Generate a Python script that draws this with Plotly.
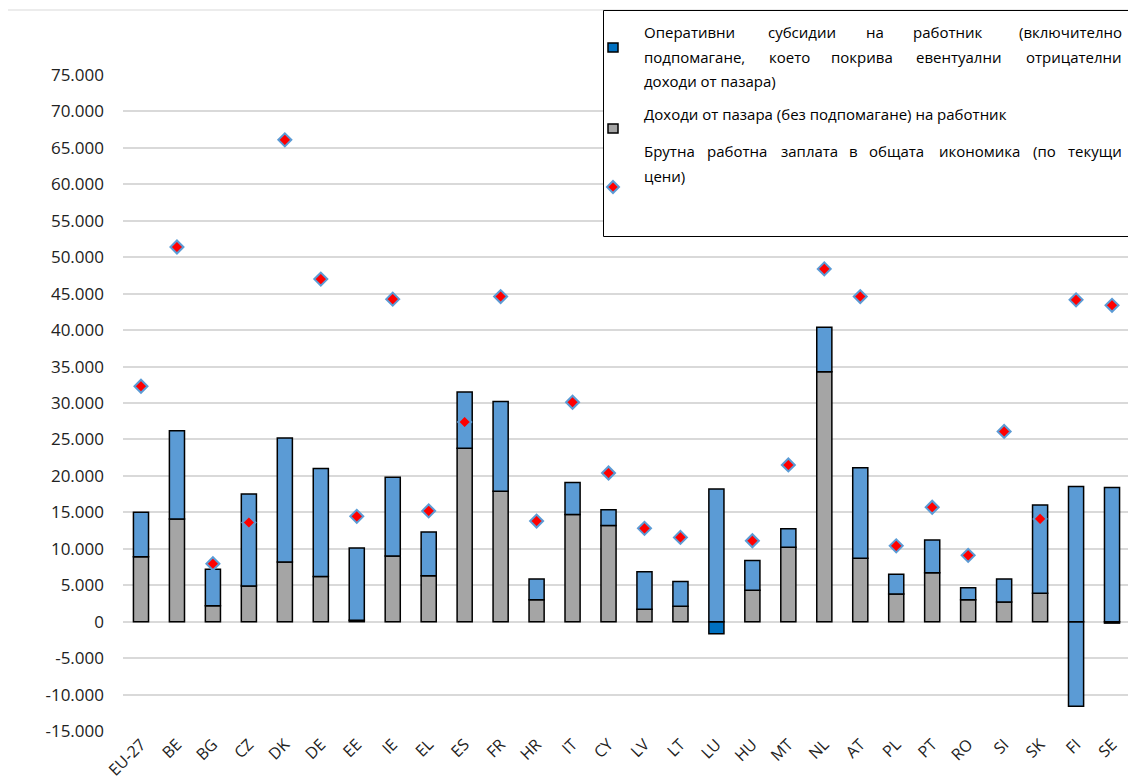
import plotly.graph_objects as go

# ---------------- data ----------------
countries = ["EU-27", "BE", "BG", "CZ", "DK", "DE", "EE", "IE", "EL", "ES", "FR", "HR", "IT", "CY",
             "LV", "LT", "LU", "HU", "MT", "NL", "AT", "PL", "PT", "RO", "SI", "SK", "FI", "SE"]
market_income = [8900, 14100, 2200, 4900, 8200, 6200, 200, 9000, 6300, 23800, 17900, 3000, 14700, 13200,
                 1700, 2100, -1650, 4300, 10200, 34300, 8700, 3800, 6700, 3000, 2700, 3900, -11600, -200]
subsidies = [6100, 12100, 5000, 12600, 17000, 14800, 9900, 10800, 6000, 7700, 12300, 2850, 4400, 2150,
             5150, 3400, 18200, 4100, 2550, 6100, 12400, 2700, 4500, 1660, 3150, 12100, 18550, 18400]
gross_wage = [32300, 51400, 7950, 13600, 66100, 47000, 14450, 44250, 15200, 27400, 44600, 13800, 30100, 20400,
              12800, 11560, None, 11100, 21500, 48400, 44600, 10400, 15700, 9100, 26100, 14100, 44150, 43400]
y_ticks = list(range(-15000, 80000, 5000))
y_tick_labels = [f"{v:,}".replace(",", ".") for v in y_ticks]

legend_sub = "Оперативни субсидии на работник (включително подпомагане, което покрива евентуални отрицателни доходи от пазара)"
legend_market = "Доходи от пазара (без подпомагане) на работник"
legend_wage = "Брутна работна заплата в общата икономика (по текущи цени)"

# colours
C_BLUE = "#5B9BD5"
C_DARK = "#0070C0"
C_GREY = "#A5A5A5"
neg_override = {"LU": C_DARK, "FI": C_BLUE}
market_colors = [neg_override.get(c, C_GREY) for c in countries]

# page offset (body margin) and figure geometry
OFF = 8
W, H = 1128, 774
PL_LEFT, PL_RIGHT, PL_TOP, PL_BOTTOM = 123, 1130, 75, 731   # plot area in page pixels
L, R = PL_LEFT - OFF, W - (PL_RIGHT - OFF)
T, B = PL_TOP - OFF, H - (PL_BOTTOM - OFF)
PW, PH = W - L - R, H - T - B


def px(x):
    return (x - OFF - L) / PW


def py(y):
    return (H - B - (y - OFF)) / PH


FONT = "Open Sans"
LSIZE = 15

# approximate glyph advance widths (em) used only to justify legend lines
CW = {"а": .556, "б": .58, "в": .568, "г": .443, "д": .578, "е": .561, "ж": .8, "з": .487, "и": .65,
      "й": .65, "к": .556, "л": .613, "м": .747, "н": .652, "о": .6, "п": .652, "р": .613, "с": .48,
      "т": .486, "у": .5, "ф": .775, "х": .524, "ц": .663, "ч": .618, "ш": .92, "щ": .94, "ъ": .67,
      "ы": .86, "ь": .58, "ю": .87, "я": .58, "О": .78, "Д": .62, "Б": .62, "(": .296, ")": .296,
      ",": .25, " ": .26}


def text_w(s):
    return sum(CW.get(ch, .6) for ch in s) * 1.05 * LSIZE


fig = go.Figure()
fig.add_trace(go.Bar(x=countries, y=market_income, name=legend_market,
                     marker=dict(color=market_colors, line=dict(color="black", width=1.5)),
                     showlegend=False))
fig.add_trace(go.Bar(x=countries, y=subsidies, name=legend_sub,
                     marker=dict(color=C_BLUE, line=dict(color="black", width=1.5)),
                     showlegend=False))
fig.add_trace(go.Scatter(x=countries, y=gross_wage, mode="markers", name=legend_wage,
                         marker=dict(symbol="diamond", size=10, color="red",
                                     line=dict(color=C_BLUE, width=2)),
                         showlegend=False))

shapes = []
annotations = []
# outer chart border
shapes.append(dict(type="rect", xref="paper", yref="paper", x0=px(7), x1=px(1150), y0=py(800), y1=py(10),
                   line=dict(color="#D9D9D9", width=1), fillcolor="rgba(0,0,0,0)", layer="below"))
# legend box
shapes.append(dict(type="rect", xref="paper", yref="paper", x0=px(603.5), x1=px(1150), y0=py(236.5), y1=py(10.5),
                   line=dict(color="black", width=1), fillcolor="white", layer="above"))
# legend glyphs
shapes.append(dict(type="rect", xref="paper", yref="paper", x0=px(608), x1=px(618), y0=py(52), y1=py(43),
                   line=dict(color="black", width=1.5), fillcolor=C_DARK, layer="above"))
shapes.append(dict(type="rect", xref="paper", yref="paper", x0=px(608), x1=px(618), y0=py(133), y1=py(124),
                   line=dict(color="black", width=1.5), fillcolor=C_GREY, layer="above"))
dcx, dcy, d = 613, 187, 6
shapes.append(dict(type="path", xref="paper", yref="paper",
                   path=f"M {px(dcx)} {py(dcy - d)} L {px(dcx + d)} {py(dcy)} L {px(dcx)} {py(dcy + d)} L {px(dcx - d)} {py(dcy)} Z",
                   line=dict(color=C_BLUE, width=2), fillcolor="red", layer="above"))

# legend text: justified lines (words spread evenly), last line of a paragraph left-aligned
LEFT, RIGHT = 642, 1124
lines = [
    (32, "Оперативни субсидии на работник (включително", True),
    (57, "подпомагане, което покрива евентуални отрицателни", True),
    (81, "доходи от пазара)", False),
    (114, legend_market, False),
    (151, "Брутна работна заплата в общата икономика (по текущи", True),
    (176, "цени)", False),
]
for ypix, line, justify in lines:
    if not justify:
        annotations.append(dict(text=line, xref="paper", yref="paper", x=px(LEFT), y=py(ypix),
                                xanchor="left", yanchor="middle", showarrow=False,
                                font=dict(family=FONT, size=LSIZE, color="black")))
        continue
    words = line.split(" ")
    widths = [text_w(w) for w in words]
    gap = (RIGHT - LEFT - sum(widths)) / (len(words) - 1)
    x = LEFT
    for i, (w, wd) in enumerate(zip(words, widths)):
        if i == 0:
            xa, anchor = LEFT, "left"
        elif i == len(words) - 1:
            xa, anchor = RIGHT, "right"
        else:
            xa, anchor = x + wd / 2, "center"
        annotations.append(dict(text=w, xref="paper", yref="paper", x=px(xa), y=py(ypix),
                                xanchor=anchor, yanchor="middle", showarrow=False,
                                font=dict(family=FONT, size=LSIZE, color="black")))
        x += wd + gap

fig.update_layout(
    width=W, height=H,
    margin=dict(l=L, r=R, t=T, b=B),
    barmode="relative",
    bargap=0.58,
    plot_bgcolor="white", paper_bgcolor="white",
    font=dict(family=FONT, size=15, color="black"),
    shapes=shapes, annotations=annotations,
)
fig.update_xaxes(range=[-0.5, len(countries) - 0.5], showgrid=False, showline=False, ticks="", tickangle=-45,
                 tickfont=dict(family=FONT, size=16, color="#222222"), automargin=False)
fig.update_yaxes(range=[-15000, 75000], tickvals=y_ticks, ticktext=y_tick_labels,
                 showgrid=True, gridcolor="#D9D9D9", gridwidth=1.5,
                 zeroline=True, zerolinecolor="#D9D9D9", zerolinewidth=1.5,
                 showline=False, ticks="", ticklabelstandoff=18,
                 tickfont=dict(family=FONT, size=17, color="#222222"), automargin=False)

fig.write_html("out.html")
